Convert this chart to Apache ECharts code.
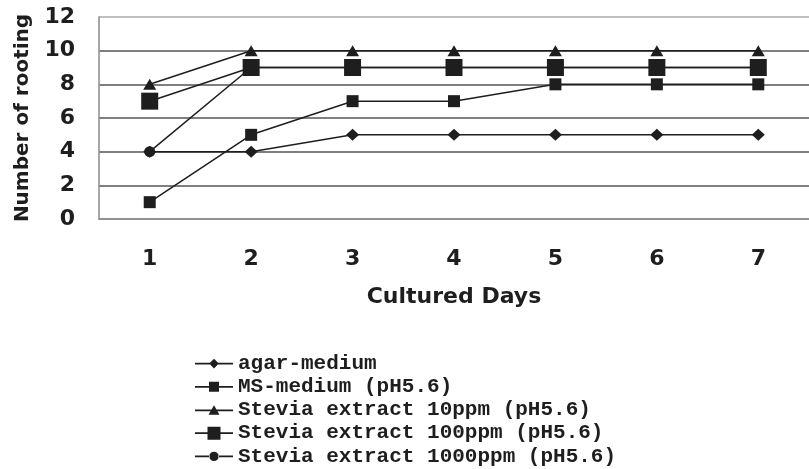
<!DOCTYPE html>
<html>
<head>
<meta charset="utf-8">
<script src="https://cdn.jsdelivr.net/npm/echarts@6/dist/echarts.min.js"></script>
<style>html,body{margin:0;padding:0;background:#fff}#c{width:809px;height:469px}</style>
</head>
<body>
<div id="c"></div>
<script>
const days = ['1','2','3','4','5','6','7'];
const yTicks = [0, 2, 4, 6, 8, 10, 12];
const seriesNames = ['agar-medium','MS-medium (pH5.6)','Stevia extract 10ppm (pH5.6)','Stevia extract 100ppm (pH5.6)','Stevia extract 1000ppm (pH5.6)'];
const agar = [4, 4, 5, 5, 5, 5, 5];
const msMedium = [1, 5, 7, 7, 8, 8, 8];
const stevia10 = [8, 10, 10, 10, 10, 10, 10];
const stevia100 = [7, 9, 9, 9, 9, 9, 9];
const stevia1000 = [4, 9, 9, 9, 9, 9, 9];

const ink = '#1e1e1e';
const symbols = ['diamond','rect','triangle','rect','circle'];
const sizes = [[13,12],[12,12],[13,11],[17,17],[11,11]];
const datasets = [agar, msMedium, stevia10, stevia100, stevia1000];
const z = [5,4,3,6,2];

// legend glyphs: a line through a marker of the series' own size
const lineBar = 'M0,6.1 h38 v1.8 h-38 Z ';
const splitBar = 'M0,6.1 h15 v1.8 h-15 Z M23,6.1 h15 v1.8 h-15 Z ';
const legendIcons = [
  'path://' + lineBar + 'M19,2.2 L23.8,7 L19,11.8 L14.2,7 Z',
  'path://' + lineBar + 'M14,2 h10 v10 h-10 Z',
  'path://' + lineBar + 'M19,1.8 L24.5,11.5 L13.5,11.5 Z',
  'path://' + lineBar + 'M12.5,0.5 h13 v13 h-13 Z',
  'path://' + splitBar + 'M14.3,7 a4.7,4.7 0 1,0 9.4,0 a4.7,4.7 0 1,0 -9.4,0 Z'
];

const chart = echarts.init(document.getElementById('c'), null, {renderer:'canvas'});
chart.setOption({
  animation:false,
  backgroundColor:'#fff',
  grid:{left:99, top:17, width:717, height:202},
  legend:{
    orient:'vertical', left:195, top:352, height:130, padding:0, itemWidth:38, itemHeight:14, itemGap:0,
    symbolKeepAspect:true,
    data:seriesNames.map((n,i)=>({name:n, icon:legendIcons[i]})),
    itemStyle:{color:ink, borderWidth:0},
    textStyle:{fontFamily:'Liberation Mono', fontWeight:'bold', fontSize:21, color:ink, lineHeight:23.2}
  },
  xAxis:{
    type:'category', data:days, boundaryGap:true,
    axisLine:{lineStyle:{color:'#8a8a8a', width:1.5}},
    axisTick:{inside:true, length:7, lineStyle:{color:'#777', width:1.5}},
    axisLabel:{margin:29, fontFamily:'DejaVu Sans', fontWeight:'bold', fontSize:22, color:ink},
    name:'Cultured Days', nameLocation:'middle', nameGap:67,
    nameTextStyle:{fontFamily:'DejaVu Sans', fontWeight:'bold', fontSize:22, color:ink}
  },
  yAxis:{
    type:'value', min:yTicks[0], max:yTicks[yTicks.length-1], interval:2,
    axisLine:{show:true, lineStyle:{color:'#8a8a8a', width:1.5}},
    axisTick:{show:false},
    splitLine:{lineStyle:{color:['#8a8a8a','#555','#555','#555','#555','#555','#aaa'], width:1.5}},
    axisLabel:{margin:24, fontFamily:'DejaVu Sans', fontWeight:'bold', fontSize:22, color:ink},
    name:'Number of rooting', nameLocation:'middle', nameGap:66, nameRotate:90,
    nameTextStyle:{fontFamily:'DejaVu Sans', fontWeight:'bold', fontSize:20, color:ink}
  },
  series: datasets.map((d,i)=>({
    name:seriesNames[i], type:'line', data:d, z:z[i],
    symbol:symbols[i], symbolSize:sizes[i], showAllSymbol:true,
    lineStyle:{color:ink, width:1.5},
    itemStyle:{color:ink, borderColor:ink, borderWidth:0}
  }))
});
</script>
</body>
</html>
